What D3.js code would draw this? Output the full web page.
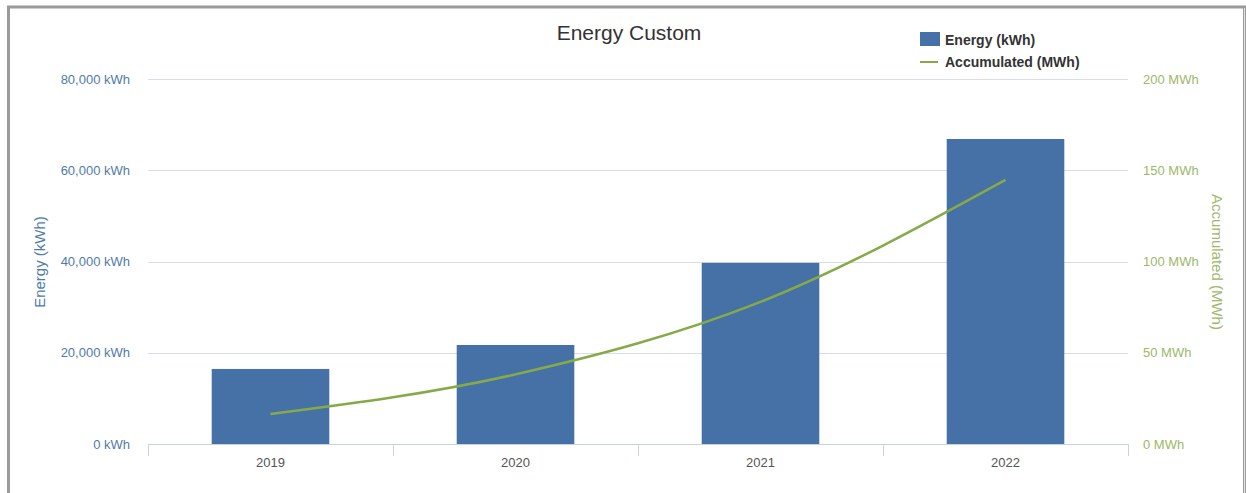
<!DOCTYPE html>
<html>
<head>
<meta charset="utf-8">
<script src="https://cdn.jsdelivr.net/npm/d3@7"></script>
<style>
html,body{margin:0;padding:0;background:#fff;}
svg{display:block;font-family:"Liberation Sans",Arial,sans-serif;}
</style>
</head>
<body>
<svg id="chart" width="1246" height="493"></svg>
<script>
const categories = ["2019", "2020", "2021", "2022"];
const energyKWh = [16450, 21700, 39700, 66850];
const accumulatedMWh = [16.45, 38.15, 77.85, 144.7];
const leftTicks = [0, 20000, 40000, 60000, 80000];
const rightTicks = [0, 50, 100, 150, 200];

const svg = d3.select("#chart");
const W = 1246, H = 493;
const plot = {left: 148, right: 1128, top: 79, bottom: 444};

// frame
svg.append("rect").attr("x", 0).attr("y", 0).attr("width", W).attr("height", H).attr("fill", "#fff");
svg.append("rect").attr("x", 8.5).attr("y", 7).attr("width", 1236).attr("height", 500)
  .attr("fill", "none").attr("stroke", "#9a9a9a").attr("stroke-width", 3);
svg.append("line").attr("x1", 1244.5).attr("x2", 1244.5).attr("y1", 8).attr("y2", H)
  .attr("stroke", "#e6e6e6").attr("stroke-width", 1);

const x = d3.scaleBand().domain(categories).range([plot.left, plot.right]).paddingInner(0.52).paddingOuter(0.26);
const xb = d3.scaleBand().domain(categories).range([plot.left, plot.right]);
const yL = d3.scaleLinear().domain([0, 80000]).range([plot.bottom, plot.top]);
const yR = d3.scaleLinear().domain([0, 200]).range([plot.bottom, plot.top]);

// grid
svg.append("g").selectAll("line").data(leftTicks.slice(1)).join("line")
  .attr("x1", plot.left).attr("x2", plot.right)
  .attr("y1", d => Math.round(yL(d)) + 0.5).attr("y2", d => Math.round(yL(d)) + 0.5)
  .attr("stroke", "#d8dde6").attr("stroke-width", 1);

// left axis labels
const fmt = d3.format(",");
svg.append("g").selectAll("text").data(leftTicks).join("text")
  .attr("x", 130).attr("y", d => yL(d) + 4.5)
  .attr("text-anchor", "end").attr("font-size", 13).attr("fill", "#4f7bac")
  .text(d => fmt(d) + " kWh");

// right axis labels
svg.append("g").selectAll("text").data(rightTicks).join("text")
  .attr("x", 1143).attr("y", d => yR(d) + 4.5)
  .attr("text-anchor", "start").attr("font-size", 13).attr("fill", "#9db86a")
  .text(d => d + " MWh");

// axis titles
svg.append("text").attr("transform", "translate(45,262) rotate(-90)")
  .attr("text-anchor", "middle").attr("font-size", 15).attr("fill", "#4f7bac").text("Energy (kWh)");
svg.append("text").attr("transform", "translate(1212,262) rotate(90)")
  .attr("text-anchor", "middle").attr("font-size", 15).attr("fill", "#9db86a").text("Accumulated (MWh)");

// bars
svg.append("g").selectAll("rect").data(categories).join("rect")
  .attr("x", d => x(d)).attr("width", x.bandwidth())
  .attr("y", (d, i) => yL(energyKWh[i])).attr("height", (d, i) => plot.bottom - yL(energyKWh[i]))
  .attr("fill", "#4571a6");

// x axis
const xAxis = svg.append("g").attr("transform", `translate(0,${plot.bottom})`)
  .call(d3.axisBottom(xb).tickSize(0).tickPadding(14));
xAxis.select(".domain").remove();
xAxis.selectAll("text").attr("font-size", 13).attr("fill", "#555").attr("font-family", "Liberation Sans, Arial, sans-serif");
svg.append("line").attr("x1", plot.left).attr("x2", plot.right).attr("y1", plot.bottom + 0.5).attr("y2", plot.bottom + 0.5)
  .attr("stroke", "#c8d3e0");
const bounds = categories.map(c => xb(c)).concat([plot.right]);
svg.append("g").selectAll("line").data(bounds).join("line")
  .attr("x1", d => Math.round(d) + 0.5).attr("x2", d => Math.round(d) + 0.5)
  .attr("y1", plot.bottom).attr("y2", plot.bottom + 12).attr("stroke", "#c8d3e0");

// line
const line = d3.line()
  .x((d, i) => xb(categories[i]) + xb.bandwidth() / 2)
  .y(d => yR(d))
  .curve(d3.curveMonotoneX);
svg.append("path").datum(accumulatedMWh).attr("d", line)
  .attr("fill", "none").attr("stroke", "#86aa48").attr("stroke-width", 2.5);

// title
svg.append("text").attr("x", 629).attr("y", 40).attr("text-anchor", "middle")
  .attr("font-size", 21).attr("fill", "#333").text("Energy Custom");

// legend
const lg = svg.append("g");
lg.append("rect").attr("x", 908).attr("y", 26).attr("width", 196).attr("height", 50).attr("fill", "#fff");
lg.append("rect").attr("x", 920).attr("y", 32).attr("width", 20).attr("height", 14).attr("fill", "#4571a6");
lg.append("text").attr("x", 945).attr("y", 45).attr("font-size", 14).attr("font-weight", "bold").attr("fill", "#333").text("Energy (kWh)");
lg.append("line").attr("x1", 920).attr("x2", 938).attr("y1", 62).attr("y2", 62).attr("stroke", "#86aa48").attr("stroke-width", 2);
lg.append("text").attr("x", 945).attr("y", 67).attr("font-size", 14).attr("font-weight", "bold").attr("fill", "#333").text("Accumulated (MWh)");
</script>
</body>
</html>
